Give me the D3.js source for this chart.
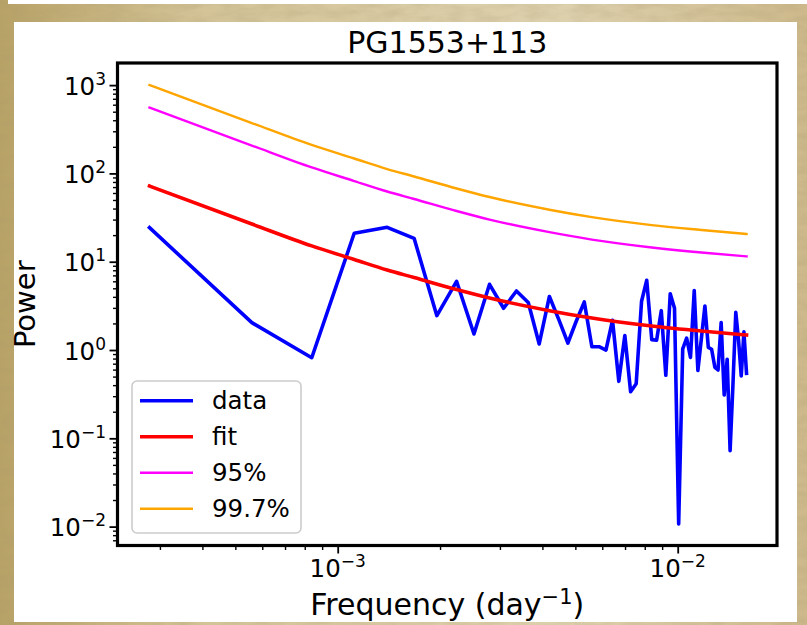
<!DOCTYPE html>
<html><head><meta charset="utf-8">
<script src="https://cdn.jsdelivr.net/npm/d3@7"></script>
<style>
html,body{margin:0;padding:0;background:#fff;}
svg{display:block;font-family:"DejaVu Sans",sans-serif;}
</style>
</head><body>
<svg id="chart" width="807" height="625"></svg>
<script>
// ---------------- data ----------------
const chartTitle = "PG1553+113";
const frequency = [
  2.796e-4, 5.592e-4, 8.388e-4, 1.1184e-3, 1.398e-3, 1.6776e-3, 1.9572e-3, 2.2368e-3, 2.5164e-3, 2.796e-3,
  3.0756e-3, 3.3552e-3, 3.6348e-3, 3.9144e-3, 4.194e-3, 4.4736e-3, 4.7532e-3, 5.0328e-3, 5.3124e-3, 5.592e-3,
  5.8716e-3, 6.1512e-3, 6.4308e-3, 6.7104e-3, 6.99e-3, 7.2696e-3, 7.5492e-3, 7.8288e-3, 8.1084e-3, 8.388e-3,
  8.6676e-3, 8.9472e-3, 9.2268e-3, 9.5064e-3, 9.786e-3, 1.00656e-2, 1.03452e-2, 1.06248e-2, 1.09044e-2, 1.1184e-2,
  1.14636e-2, 1.17432e-2, 1.20228e-2, 1.23024e-2, 1.2582e-2, 1.28616e-2, 1.31412e-2, 1.34208e-2, 1.37004e-2, 1.398e-2,
  1.42596e-2, 1.45392e-2, 1.48188e-2, 1.50984e-2, 1.5378e-2, 1.56576e-2, 1.59372e-2
];
const dataPower = [
  24.3, 2.04, 0.818, 21.0, 24.5, 18.4, 2.45, 6.0, 1.52, 5.55,
  2.97, 4.66, 3.45, 1.17, 4.04, 2.19, 1.2, 2.13, 3.5, 1.09,
  1.09, 1.0, 2.17, 0.442, 1.46, 0.337, 0.415, 3.57, 6.16, 1.31,
  1.29, 2.79, 0.517, 4.34, 2.97, 0.0107, 1.03, 1.36, 0.823, 4.72,
  0.586, 1.37, 3.15, 1.07, 1.02, 0.637, 0.594, 2.04, 0.309, 0.787,
  0.0724, 0.412, 2.67, 1.29, 0.508, 1.61, 0.545
];
const curveFrequency = [2.796e-4, 5.592e-4, 8.388e-4, 1.1184e-3, 1.398e-3, 1.6776e-3, 2.2368e-3, 2.796e-3, 4.194e-3, 5.592e-3, 8.388e-3, 1.17432e-2, 1.59372e-2];
const fitPower      = [72.0, 26.7, 15.1, 10.6, 8.05, 6.62, 4.84, 3.88, 2.79, 2.30, 1.87, 1.64, 1.48];
const conf95Power   = [557, 207, 117, 82, 62.4, 51.3, 37.5, 30.0, 21.6, 17.8, 14.5, 12.7, 11.5];
const conf997Power  = [1002, 372, 210, 147.5, 112, 92.3, 67.5, 54.0, 38.8, 32.0, 26.0, 22.9, 20.6];
const seriesNames   = ["data", "fit", "95%", "99.7%"];
const seriesColors  = ["#0000ff", "#ff0000", "#ff00ff", "#ffa500"];
const xTickExponents = [-3, -2];
const yTickExponents = [-2, -1, 0, 1, 2, 3];
const xDomain = [2.251e-4, 1.959e-2];
const yDomain = [0.00611, 1780];
const xLabel = "Frequency (day";
const xLabelSup = "\u22121";
const yLabel = "Power";

// ---------------- layout ----------------
const svg = d3.select("#chart");
const defs = svg.append("defs");
const grad = defs.append("linearGradient").attr("id","parch").attr("x1","0").attr("x2","1").attr("y1","0").attr("y2","0");
grad.append("stop").attr("offset","0%").attr("stop-color","#b8a266");
grad.append("stop").attr("offset","25%").attr("stop-color","#d3c397");
grad.append("stop").attr("offset","70%").attr("stop-color","#ddd0ad");
grad.append("stop").attr("offset","100%").attr("stop-color","#cdb98b");
const flt = defs.append("filter").attr("id","noise").attr("x","0").attr("y","0").attr("width","100%").attr("height","100%");
flt.append("feTurbulence").attr("type","fractalNoise").attr("baseFrequency","0.04 0.12").attr("numOctaves",4).attr("seed",7).attr("result","n");
flt.append("feColorMatrix").attr("type","matrix")
  .attr("values","0 0 0 0 0.38  0 0 0 0 0.31  0 0 0 0 0.16  0 0 0 -1.2 0.8");

svg.append("rect").attr("width",807).attr("height",625).attr("fill","url(#parch)");
svg.append("rect").attr("width",807).attr("height",625).attr("filter","url(#noise)").attr("opacity",0.35);
// top white strip and main white panel
svg.append("rect").attr("x",8).attr("y",0).attr("width",799).attr("height",4).attr("fill","#fff");
svg.append("rect").attr("x",14).attr("y",22).attr("width",783).attr("height",600).attr("fill","#fff");

const L = 117.5, R = 777, T = 63, B = 545.5;
const x = d3.scaleLog().domain(xDomain).range([L, R]);
const y = d3.scaleLog().domain(yDomain).range([B, T]);

// minor ticks
const xMinor = [];
for (let e = -4; e <= -2; e++) for (let m = 2; m <= 9; m++) { const v = m * Math.pow(10, e); if (v > xDomain[0] && v < xDomain[1]) xMinor.push(v); }
const yMinor = [];
for (let e = -3; e <= 3; e++) for (let m = 2; m <= 9; m++) { const v = m * Math.pow(10, e); if (v > yDomain[0] && v < yDomain[1]) yMinor.push(v); }
const xMajor = xTickExponents.map(e => Math.pow(10, e));
const yMajor = yTickExponents.map(e => Math.pow(10, e));

function styleAxis(g, w) {
  g.select(".domain").remove();
  g.selectAll(".tick line").attr("stroke","#000").attr("stroke-width",w);
  g.selectAll(".tick text").remove();
}
svg.append("g").attr("transform",`translate(0,${B})`)
  .call(d3.axisBottom(x).tickValues(xMinor).tickSize(4.5).tickFormat(""))
  .call(g => styleAxis(g,1.4));
svg.append("g").attr("transform",`translate(0,${B})`)
  .call(d3.axisBottom(x).tickValues(xMajor).tickSize(8).tickFormat(""))
  .call(g => styleAxis(g,1.8));
svg.append("g").attr("transform",`translate(${L},0)`)
  .call(d3.axisLeft(y).tickValues(yMinor).tickSize(4.5).tickFormat(""))
  .call(g => styleAxis(g,1.4));
svg.append("g").attr("transform",`translate(${L},0)`)
  .call(d3.axisLeft(y).tickValues(yMajor).tickSize(8).tickFormat(""))
  .call(g => styleAxis(g,1.8));

// tick labels
const fs = 24.5;
xTickExponents.forEach(e => {
  const t = svg.append("text").attr("x", x(Math.pow(10,e))).attr("y", 577).attr("text-anchor","middle").attr("font-size",fs).attr("fill","#000");
  t.append("tspan").text("10");
  t.append("tspan").attr("font-size",17).attr("dy",-10).text(e < 0 ? "\u2212" + (-e) : String(e));
});
yTickExponents.forEach(e => {
  const t = svg.append("text").attr("x", 106).attr("y", y(Math.pow(10,e)) + 9.5).attr("text-anchor","end").attr("font-size",fs).attr("fill","#000");
  t.append("tspan").text("10");
  t.append("tspan").attr("font-size",17).attr("dy",-10).text(e < 0 ? "\u2212" + (-e) : String(e));
});

// clip
defs.append("clipPath").attr("id","plotclip").append("rect").attr("x",L).attr("y",T).attr("width",R-L).attr("height",B-T);
const plot = svg.append("g").attr("clip-path","url(#plotclip)");

const lineData = d3.line().x(d => x(d[0])).y(d => y(d[1]));
const lineCurve = d3.line().x(d => x(d[0])).y(d => y(d[1])).curve(d3.curveMonotoneX);

const dataPts = frequency.map((f,i) => [f, dataPower[i]]);
const fitPts = curveFrequency.map((f,i) => [f, fitPower[i]]);
const c95Pts = curveFrequency.map((f,i) => [f, conf95Power[i]]);
const c997Pts = curveFrequency.map((f,i) => [f, conf997Power[i]]);

plot.append("path").attr("d", lineData(dataPts)).attr("fill","none").attr("stroke",seriesColors[0]).attr("stroke-width",3.6).attr("stroke-linejoin","round").attr("stroke-linecap","square");
plot.append("path").attr("d", lineCurve(fitPts)).attr("fill","none").attr("stroke",seriesColors[1]).attr("stroke-width",3.6).attr("stroke-linecap","square");
plot.append("path").attr("d", lineCurve(c95Pts)).attr("fill","none").attr("stroke",seriesColors[2]).attr("stroke-width",2.4).attr("stroke-linecap","square");
plot.append("path").attr("d", lineCurve(c997Pts)).attr("fill","none").attr("stroke",seriesColors[3]).attr("stroke-width",2.4).attr("stroke-linecap","square");

// frame
svg.append("rect").attr("x",L).attr("y",T).attr("width",R-L).attr("height",B-T).attr("fill","none").attr("stroke","#000").attr("stroke-width",3.2);

// legend
const lg = svg.append("g");
lg.append("rect").attr("x",132).attr("y",381).attr("width",169).attr("height",152).attr("rx",5)
  .attr("fill","#fff").attr("fill-opacity",0.8).attr("stroke","#cccccc").attr("stroke-width",1.6);
const legendW = [3.6, 3.6, 2.4, 2.4];
seriesNames.forEach((name,i) => {
  const yy = 400.7 + i*36;
  lg.append("line").attr("x1",140).attr("x2",193).attr("y1",yy).attr("y2",yy).attr("stroke",seriesColors[i]).attr("stroke-width",legendW[i]);
  lg.append("text").attr("x",212).attr("y",yy+8.7).attr("font-size",fs).attr("fill","#000").text(name);
});

// title & axis labels
svg.append("text").attr("x",(L+R)/2).attr("y",53).attr("text-anchor","middle").attr("font-size",30).attr("fill","#000").text(chartTitle);
const xl = svg.append("text").attr("x",(L+R)/2).attr("y",615).attr("text-anchor","middle").attr("font-size",30).attr("fill","#000");
xl.append("tspan").text(xLabel);
xl.append("tspan").attr("font-size",21).attr("dy",-11).text(xLabelSup);
xl.append("tspan").attr("dy",11).text(")");
svg.append("text").attr("transform",`translate(35,${(T+B)/2}) rotate(-90)`).attr("text-anchor","middle").attr("font-size",29).attr("fill","#000").text(yLabel);
</script>
</body></html>
